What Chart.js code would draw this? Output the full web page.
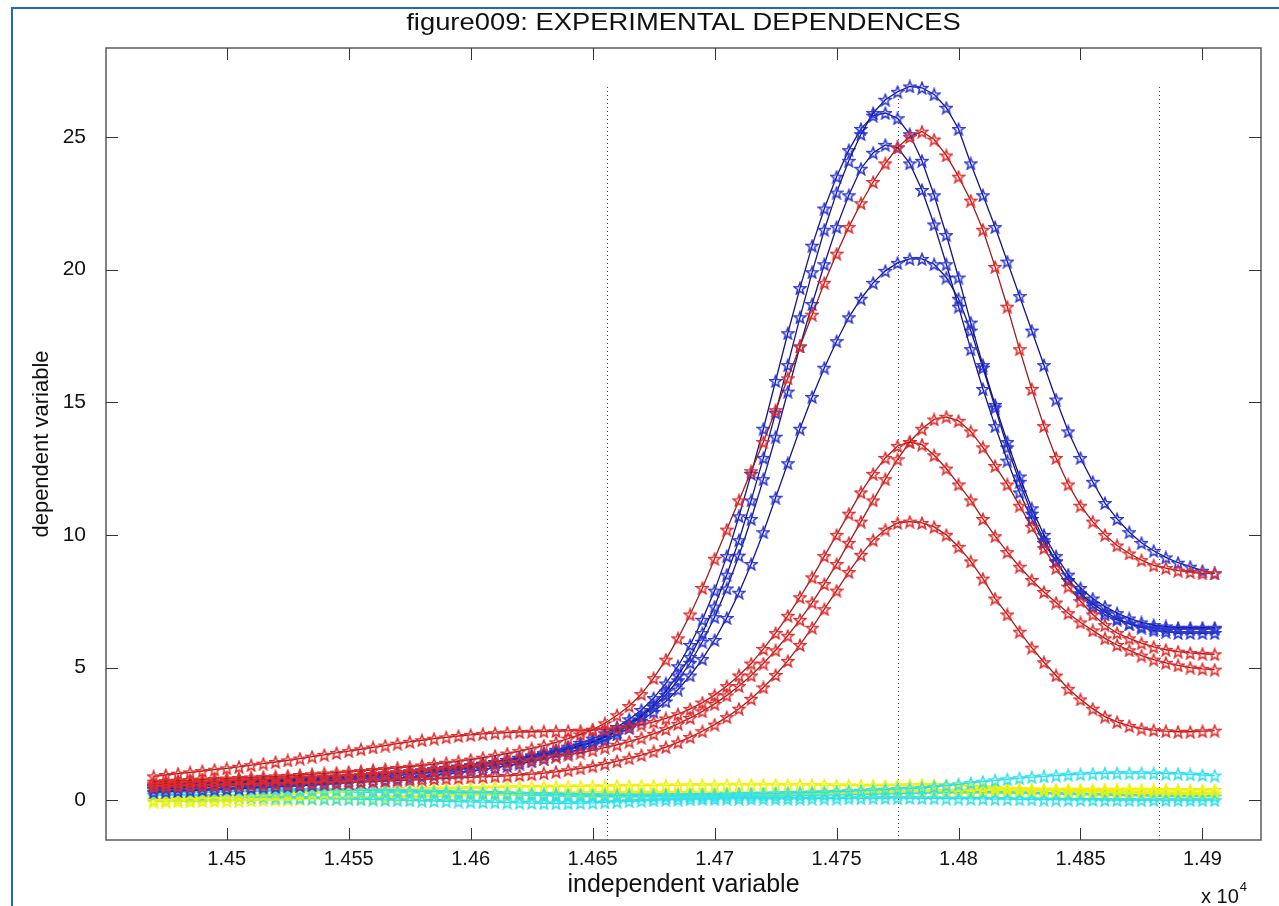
<!DOCTYPE html>
<html>
<head>
<meta charset="utf-8">
<title>figure009</title>
<script src="https://cdn.jsdelivr.net/npm/chart.js@4.4.1/dist/chart.umd.min.js"></script>
<style>
  html, body { margin: 0; padding: 0; background: #fff; overflow: hidden; }
  #frame { position: absolute; left: 11px; top: 7px; width: 1320px; height: 1000px; border: 2px solid #1f6db0; box-sizing: border-box; }
  #wrap { position: absolute; left: 0; top: 0; width: 1279px; height: 906px; }
</style>
</head>
<body>
<div id="frame"></div>
<div id="wrap"><canvas id="chart" width="1279" height="906"></canvas></div>
<script>
// shared x positions (raw units, axis shows them x 10^4)
const xValues = [
  14470,14475,14480,14485,14490,14495,14500,14505,14510,14515,
  14520,14525,14530,14535,14540,14545,14550,14555,14560,14565,
  14570,14575,14580,14585,14590,14595,14600,14605,14610,14615,
  14620,14625,14630,14635,14640,14645,14650,14655,14660,14665,
  14670,14675,14680,14685,14690,14695,14700,14705,14710,14715,
  14720,14725,14730,14735,14740,14745,14750,14755,14760,14765,
  14770,14775,14780,14785,14790,14795,14800,14805,14810,14815,
  14820,14825,14830,14835,14840,14845,14850,14855,14860,14865,
  14870,14875,14880,14885,14890,14895,14900,14905
];

const blueA = [
  0.55,0.57,0.59,0.61,0.63,0.65,0.67,0.69,0.71,0.73,
  0.75,0.77,0.80,0.83,0.86,0.89,0.92,0.95,0.98,1.01,
  1.05,1.09,1.13,1.17,1.22,1.27,1.32,1.38,1.44,1.51,
  1.58,1.66,1.74,1.84,1.95,2.07,2.20,2.40,2.60,2.90,
  3.20,3.60,4.10,4.70,5.40,6.30,7.30,8.50,9.80,11.3,
  12.9,14.6,16.4,18.2,19.9,21.5,22.9,24.1,25.1,25.9,
  26.4,26.7,26.9,26.85,26.6,26.1,25.3,24.0,22.8,21.6,
  20.3,19.0,17.7,16.4,15.1,13.9,12.9,12.0,11.2,10.6,
  10.1,9.7,9.4,9.15,8.95,8.8,8.65,8.55
];
const blueB = [
  0.50,0.52,0.54,0.56,0.58,0.60,0.62,0.64,0.66,0.68,
  0.70,0.72,0.75,0.78,0.81,0.84,0.87,0.90,0.94,0.98,
  1.02,1.06,1.10,1.15,1.20,1.25,1.31,1.37,1.44,1.52,
  1.60,1.69,1.79,1.90,2.02,2.16,2.32,2.52,2.76,3.05,
  3.40,3.85,4.40,5.05,5.85,6.80,7.90,9.20,10.7,12.3,
  14.0,15.8,17.6,19.3,20.9,22.3,23.5,24.5,25.3,25.8,
  25.9,25.7,25.1,24.1,22.8,21.3,19.7,18.0,16.4,14.9,
  13.5,12.2,11.0,10.0,9.2,8.5,8.0,7.6,7.3,7.05,
  6.85,6.7,6.6,6.55,6.5,6.5,6.5,6.5
];
const blueC = [
  0.42,0.44,0.46,0.48,0.50,0.52,0.54,0.56,0.58,0.60,
  0.62,0.64,0.66,0.69,0.72,0.75,0.78,0.81,0.85,0.89,
  0.93,0.97,1.01,1.06,1.11,1.16,1.22,1.28,1.35,1.42,
  1.50,1.59,1.68,1.79,1.91,2.04,2.19,2.37,2.58,2.84,
  3.15,3.52,3.97,4.52,5.18,5.97,6.90,7.98,9.22,10.6,
  12.1,13.7,15.4,17.1,18.7,20.2,21.6,22.8,23.8,24.4,
  24.7,24.6,24.0,23.0,21.7,20.2,18.6,17.0,15.5,14.1,
  12.8,11.6,10.6,9.7,9.0,8.3,7.8,7.4,7.1,6.85,
  6.65,6.5,6.4,6.35,6.3,6.3,6.3,6.3
];
const blueD = [
  0.30,0.32,0.34,0.36,0.38,0.40,0.42,0.44,0.46,0.48,
  0.50,0.52,0.54,0.57,0.60,0.63,0.66,0.69,0.72,0.76,
  0.80,0.84,0.88,0.93,0.98,1.03,1.09,1.15,1.22,1.29,
  1.37,1.46,1.56,1.67,1.79,1.93,2.09,2.27,2.48,2.72,
  3.00,3.33,3.72,4.17,4.70,5.32,6.04,6.87,7.82,8.90,
  10.1,11.4,12.7,14.0,15.2,16.3,17.3,18.2,18.9,19.5,
  19.95,20.25,20.4,20.4,20.2,19.7,18.9,17.7,16.3,14.8,
  13.3,12.0,10.8,9.8,9.0,8.3,7.75,7.3,7.0,6.8,
  6.65,6.55,6.5,6.45,6.45,6.45,6.45,6.45
];

const redA = [
  0.70,0.72,0.74,0.76,0.78,0.80,0.82,0.84,0.86,0.88,
  0.90,0.92,0.95,0.98,1.01,1.04,1.07,1.10,1.14,1.18,
  1.22,1.26,1.31,1.36,1.41,1.47,1.53,1.60,1.68,1.76,
  1.85,1.95,2.06,2.18,2.32,2.48,2.66,2.90,3.20,3.55,
  4.0,4.6,5.3,6.1,7.0,8.0,9.1,10.2,11.3,12.4,
  13.5,14.7,15.9,17.1,18.3,19.5,20.6,21.6,22.5,23.3,
  24.0,24.6,25.0,25.2,24.9,24.3,23.5,22.6,21.5,20.1,
  18.6,17.0,15.5,14.1,12.9,11.9,11.1,10.5,10.0,9.6,
  9.3,9.05,8.85,8.75,8.65,8.6,8.55,8.55
];
const redB = [
  0.60,0.62,0.64,0.66,0.68,0.70,0.72,0.74,0.76,0.78,
  0.80,0.82,0.84,0.86,0.88,0.90,0.92,0.95,0.98,1.01,
  1.04,1.07,1.10,1.14,1.18,1.22,1.26,1.30,1.35,1.40,
  1.45,1.51,1.57,1.64,1.71,1.79,1.88,1.98,2.09,2.21,
  2.35,2.50,2.68,2.88,3.10,3.35,3.63,3.95,4.30,4.70,
  5.15,5.65,6.20,6.80,7.45,8.15,8.90,9.70,10.5,11.3,
  12.1,12.85,13.5,14.0,14.35,14.45,14.3,13.9,13.3,12.6,
  11.9,11.1,10.3,9.5,8.75,8.05,7.5,7.0,6.6,6.3,
  6.1,5.92,5.78,5.67,5.6,5.55,5.52,5.5
];
const redC = [
  0.90,0.95,1.00,1.05,1.10,1.15,1.20,1.26,1.32,1.38,
  1.44,1.50,1.57,1.64,1.71,1.78,1.85,1.92,1.99,2.06,
  2.13,2.20,2.26,2.32,2.37,2.42,2.46,2.50,2.53,2.55,
  2.57,2.58,2.59,2.60,2.61,2.62,2.64,2.67,2.71,2.77,
  2.85,2.95,3.08,3.24,3.44,3.68,3.96,4.30,4.70,5.15,
  5.70,6.30,6.95,7.65,8.40,9.20,10.0,10.8,11.6,12.3,
  12.9,13.35,13.5,13.4,13.0,12.5,11.9,11.3,10.6,9.95,
  9.35,8.8,8.3,7.85,7.45,7.05,6.7,6.4,6.1,5.85,
  5.65,5.45,5.3,5.18,5.08,5.0,4.95,4.92
];
const redD = [
  0.50,0.51,0.52,0.53,0.54,0.55,0.56,0.57,0.58,0.59,
  0.60,0.61,0.62,0.63,0.64,0.65,0.66,0.68,0.70,0.72,
  0.74,0.76,0.78,0.80,0.82,0.84,0.86,0.88,0.90,0.92,
  0.95,0.98,1.02,1.07,1.13,1.20,1.28,1.37,1.47,1.58,
  1.70,1.84,2.00,2.18,2.38,2.60,2.85,3.13,3.45,3.82,
  4.25,4.72,5.25,5.85,6.50,7.20,7.90,8.60,9.25,9.80,
  10.2,10.45,10.5,10.45,10.3,10.0,9.55,9.0,8.35,7.6,
  7.0,6.35,5.75,5.2,4.7,4.2,3.8,3.45,3.15,2.95,
  2.8,2.7,2.64,2.6,2.58,2.58,2.6,2.62
];

const yellowA = [
  0.00,0.02,0.04,0.06,0.08,0.10,0.12,0.14,0.16,0.18,
  0.20,0.22,0.24,0.26,0.28,0.30,0.32,0.34,0.36,0.38,
  0.40,0.41,0.42,0.43,0.44,0.45,0.46,0.47,0.48,0.49,
  0.50,0.50,0.51,0.51,0.52,0.52,0.53,0.53,0.54,0.54,
  0.55,0.55,0.56,0.56,0.57,0.57,0.57,0.58,0.58,0.58,
  0.58,0.58,0.58,0.58,0.57,0.57,0.56,0.56,0.55,0.55,
  0.55,0.56,0.57,0.58,0.58,0.57,0.55,0.52,0.49,0.46,
  0.44,0.42,0.41,0.40,0.40,0.40,0.40,0.40,0.40,0.40,
  0.40,0.40,0.39,0.39,0.38,0.38,0.38,0.38
];
const yellowB = [
  -0.05,-0.05,-0.04,-0.04,-0.03,-0.03,-0.02,-0.02,-0.01,0.00,
  0.01,0.02,0.03,0.04,0.05,0.06,0.07,0.08,0.09,0.10,
  0.11,0.12,0.13,0.14,0.15,0.16,0.17,0.18,0.19,0.20,
  0.21,0.22,0.23,0.24,0.25,0.26,0.27,0.28,0.28,0.28,
  0.28,0.28,0.28,0.27,0.27,0.26,0.26,0.25,0.25,0.24,
  0.24,0.24,0.24,0.24,0.25,0.25,0.26,0.27,0.28,0.29,
  0.30,0.31,0.32,0.33,0.34,0.35,0.36,0.37,0.38,0.38,
  0.38,0.38,0.37,0.36,0.35,0.34,0.33,0.32,0.31,0.30,
  0.29,0.28,0.27,0.26,0.25,0.25,0.25,0.25
];
const cyanA = [
  0.40,0.40,0.40,0.40,0.40,0.40,0.40,0.40,0.40,0.40,
  0.40,0.40,0.39,0.39,0.38,0.38,0.37,0.37,0.36,0.36,
  0.35,0.34,0.33,0.32,0.31,0.30,0.29,0.28,0.27,0.26,
  0.25,0.24,0.23,0.22,0.21,0.20,0.19,0.18,0.18,0.18,
  0.18,0.18,0.19,0.19,0.20,0.20,0.21,0.22,0.23,0.24,
  0.25,0.26,0.27,0.28,0.29,0.30,0.32,0.34,0.36,0.38,
  0.40,0.42,0.44,0.46,0.50,0.55,0.60,0.65,0.70,0.75,
  0.79,0.83,0.87,0.90,0.93,0.96,0.98,1.00,1.01,1.02,
  1.02,1.02,1.01,1.00,0.99,0.97,0.95,0.93
];
const cyanB = [
  0.20,0.19,0.18,0.17,0.16,0.15,0.14,0.13,0.12,0.11,
  0.10,0.09,0.08,0.07,0.06,0.05,0.04,0.03,0.02,0.01,
  0.00,-0.01,-0.02,-0.03,-0.04,-0.05,-0.06,-0.07,-0.08,-0.09,
  -0.10,-0.11,-0.12,-0.12,-0.12,-0.11,-0.10,-0.08,-0.06,-0.04,
  -0.02,0.00,0.01,0.02,0.03,0.04,0.04,0.05,0.05,0.05,
  0.05,0.05,0.05,0.05,0.06,0.06,0.06,0.07,0.07,0.07,
  0.08,0.08,0.08,0.07,0.07,0.06,0.06,0.05,0.05,0.04,
  0.04,0.03,0.03,0.02,0.02,0.01,0.01,0.01,0.00,0.00,
  0.00,0.00,0.00,0.00,0.00,0.00,0.00,0.00
];
const cyanC = [
  0.30,0.30,0.30,0.31,0.31,0.31,0.32,0.32,0.32,0.32,
  0.32,0.32,0.32,0.32,0.31,0.31,0.31,0.30,0.30,0.29,
  0.29,0.28,0.27,0.26,0.25,0.24,0.23,0.22,0.21,0.20,
  0.19,0.18,0.17,0.16,0.15,0.14,0.14,0.13,0.13,0.13,
  0.13,0.13,0.13,0.13,0.13,0.13,0.13,0.14,0.14,0.14,
  0.15,0.15,0.16,0.17,0.18,0.19,0.20,0.21,0.22,0.23,
  0.24,0.25,0.26,0.27,0.27,0.28,0.28,0.28,0.28,0.28,
  0.27,0.26,0.25,0.24,0.23,0.22,0.21,0.20,0.19,0.18,
  0.17,0.16,0.15,0.14,0.14,0.14,0.14,0.14
];

const xTicks = [14500, 14550, 14600, 14650, 14700, 14750, 14800, 14850, 14900];
const yTicks = [0, 5, 10, 15, 20, 25];
const guideX = [14656, 14775, 14882];
const guideTop = 27;
const chartTitle = 'figure009: EXPERIMENTAL DEPENDENCES';

const FONT = "'Liberation Sans', Arial, Helvetica, sans-serif";
const TICK = 12;

// pentagram marker like matlab 'p'
function starMarker(color, size) {
  const c = document.createElement('canvas');
  c.width = size; c.height = size;
  const g = c.getContext('2d');
  const r = size / 2 - 0.9, ri = r * 0.42, cx = size / 2, cy = size / 2 + 0.7;
  g.beginPath();
  for (let k = 0; k < 10; k++) {
    const a = -Math.PI / 2 + k * Math.PI / 5;
    const rr = k % 2 ? ri : r;
    g.lineTo(cx + rr * Math.cos(a), cy + rr * Math.sin(a));
  }
  g.closePath();
  g.strokeStyle = color;
  g.lineWidth = 1.5;
  g.stroke();
  return c;
}

function series(label, ys, starColor, lineColor) {
  return {
    label,
    data: xValues.map((x, i) => ({ x, y: ys[i] })),
    borderColor: lineColor,
    borderWidth: 1.3,
    pointStyle: starMarker(starColor, 14),
    pointRadius: 6,
    pointHoverRadius: 6,
    fill: false,
    tension: 0
  };
}

const RED = '#e42a2a', RED_LINE = '#9a2020';
const BLUE = '#2a36d6', BLUE_LINE = '#15157e';
const YELLOW = '#f0f000', CYAN = '#2ee0ee';

const axesBox = {
  id: 'axesBox',
  beforeDatasetsDraw(chart) {
    const { ctx, chartArea: a, scales: { x, y } } = chart;
    ctx.save();
    ctx.strokeStyle = '#444';
    ctx.lineWidth = 1;
    ctx.setLineDash([1, 3]);
    guideX.forEach(v => {
      const p = Math.round(x.getPixelForValue(v)) + 0.5;
      ctx.beginPath();
      ctx.moveTo(p, a.bottom);
      ctx.lineTo(p, y.getPixelForValue(guideTop));
      ctx.stroke();
    });
    ctx.restore();
  },
  afterDraw(chart) {
    const { ctx, chartArea: a, scales: { x, y } } = chart;
    ctx.save();
    ctx.strokeStyle = '#5a5a5a';
    ctx.lineWidth = 1.5;
    ctx.strokeRect(a.left, a.top, a.right - a.left, a.bottom - a.top);
    ctx.strokeStyle = '#333';
    ctx.lineWidth = 1;
    ctx.beginPath();
    xTicks.forEach(v => {
      const p = Math.round(x.getPixelForValue(v)) + 0.5;
      ctx.moveTo(p, a.bottom); ctx.lineTo(p, a.bottom - TICK);
      ctx.moveTo(p, a.top); ctx.lineTo(p, a.top + TICK);
    });
    yTicks.forEach(v => {
      const p = Math.round(y.getPixelForValue(v)) + 0.5;
      ctx.moveTo(a.left, p); ctx.lineTo(a.left + TICK, p);
      ctx.moveTo(a.right, p); ctx.lineTo(a.right - TICK, p);
    });
    ctx.stroke();

    ctx.fillStyle = '#111';
    ctx.textBaseline = 'alphabetic';

    // title, centred over the axes box
    ctx.save();
    ctx.translate((a.left + a.right) / 2, 30);
    ctx.scale(1.14, 1);
    ctx.textAlign = 'center';
    ctx.font = '24px ' + FONT;
    ctx.fillText(chartTitle, 0, 0);
    ctx.restore();

    // axis multiplier
    ctx.textAlign = 'left';
    ctx.font = '20px ' + FONT;
    const base = 'x 10';
    ctx.fillText(base, 1201, 903);
    const w = ctx.measureText(base).width;
    ctx.font = '13px ' + FONT;
    ctx.fillText('4', 1201 + w + 1, 891);
    ctx.restore();
  }
};

new Chart(document.getElementById('chart'), {
  type: 'line',
  data: {
    datasets: [
      series('red A', redA, RED, RED_LINE),
      series('red B', redB, RED, RED_LINE),
      series('red C', redC, RED, RED_LINE),
      series('red D', redD, RED, RED_LINE),
      series('blue A', blueA, BLUE, BLUE_LINE),
      series('blue B', blueB, BLUE, BLUE_LINE),
      series('blue C', blueC, BLUE, BLUE_LINE),
      series('blue D', blueD, BLUE, BLUE_LINE),
      series('cyan A', cyanA, CYAN, CYAN),
      series('yellow A', yellowA, YELLOW, YELLOW),
      series('cyan B', cyanB, CYAN, CYAN),
      series('yellow B', yellowB, YELLOW, YELLOW),
      series('cyan C', cyanC, CYAN, CYAN)
    ]
  },
  options: {
    responsive: false,
    animation: false,
    events: [],
    layout: { padding: { left: 0, right: 18, top: 48, bottom: 0 } },
    plugins: {
      legend: { display: false },
      tooltip: { enabled: false },
      title: { display: false }
    },
    scales: {
      x: {
        type: 'linear',
        min: 14450.5,
        max: 14924,
        afterBuildTicks: s => { s.ticks = xTicks.map(v => ({ value: v })); },
        afterFit: s => { s.height = 66; },
        grid: { display: false },
        border: { display: false },
        ticks: {
          autoSkip: false,
          maxRotation: 0,
          padding: -1,
          color: '#111',
          font: { family: FONT, size: 20 },
          callback: v => String(+(v / 10000).toFixed(4))
        },
        title: {
          display: true,
          text: 'independent variable',
          color: '#111',
          font: { family: FONT, size: 25 },
          padding: { top: 6, bottom: 6 }
        }
      },
      y: {
        min: -1.5,
        max: 28.35,
        afterBuildTicks: s => { s.ticks = yTicks.map(v => ({ value: v })); },
        afterFit: s => { s.width = 106; },
        grid: { display: false },
        border: { display: false },
        ticks: {
          padding: 12,
          color: '#111',
          font: { family: FONT, size: 21 }
        },
        title: {
          display: true,
          text: 'dependent variable',
          color: '#111',
          font: { family: FONT, size: 22 },
          padding: { top: 29, bottom: 29 }
        }
      }
    }
  },
  plugins: [axesBox]
});
</script>
</body>
</html>
